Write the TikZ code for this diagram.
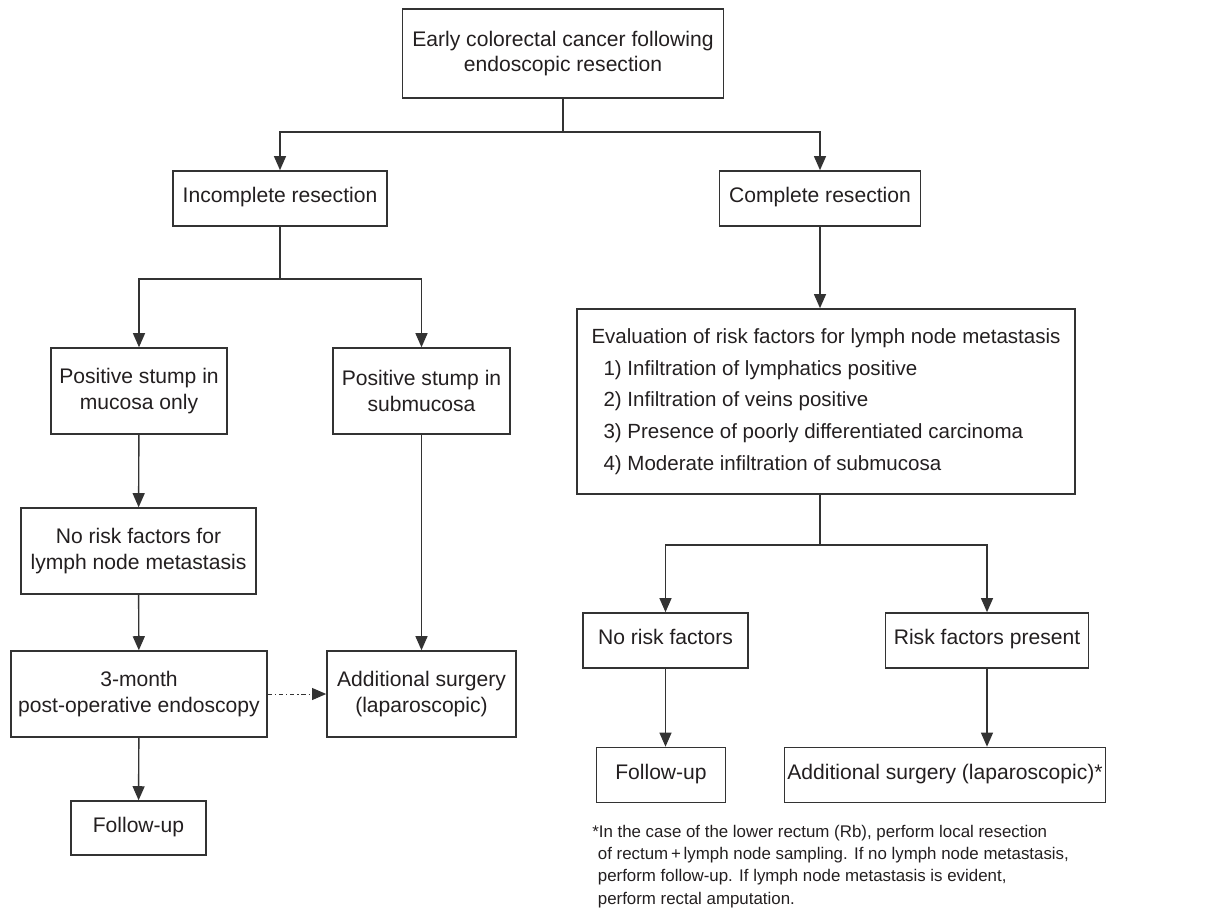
\documentclass[tikz,border=0pt]{standalone}
\usepackage{fontspec}
\setmainfont{Liberation Sans}
\usepackage{tikz}
\usetikzlibrary{arrows.meta, positioning, calc}

\definecolor{inkgray}{HTML}{231F20}
\definecolor{linegray}{HTML}{333333}

\begin{document}
\begin{tikzpicture}[x=0.025cm, y=-0.025cm,
    box/.style={draw=linegray, line width=1pt, text=inkgray, align=center, inner sep=2pt,
                font=\fontsize{15}{18}\selectfont},
    single/.style={text height=1.55ex, text depth=0.45ex},
    arr/.style={draw=linegray, line width=1pt, -{Triangle[length=10pt, width=8.5pt]}},
    link/.style={draw=linegray, line width=1pt},
    dotarr/.style={draw=linegray, line width=0.7pt, dash pattern=on 3pt off 2pt on 1pt off 2pt,
                   -{Triangle[length=10pt, width=8.5pt]}},
    note/.style={text=inkgray, align=left, inner sep=0pt, font=\fontsize{12}{15.8}\selectfont}]

\useasboundingbox (0,0) rectangle (1206,915);

% Top
\node[box, minimum width=8.03cm, minimum height=2.23cm] (start) at (563,53.5)
    {Early colorectal cancer following\\endoscopic resection};

% Row 1: resection outcome
\node[box, single, minimum width=5.35cm, minimum height=1.38cm] (incomp) at (280,198.5) {Incomplete resection};
\node[box, single, minimum width=5.03cm, minimum height=1.38cm] (comp) at (820,198.5) {Complete resection};

% Left branch
\node[box, minimum width=4.40cm, minimum height=2.15cm] (mucosa) at (139,391) {Positive stump in\\mucosa only};
\node[box, minimum width=4.43cm, minimum height=2.15cm] (submuc) at (421.5,391) {Positive stump in\\submucosa};
\node[box, minimum width=5.88cm, minimum height=2.15cm] (norisk-l) at (138.5,551) {No risk factors for\\lymph node metastasis};
\node[box, minimum width=6.40cm, minimum height=2.15cm] (endo) at (139,694) {3-month\\post-operative endoscopy};
\node[box, minimum width=4.73cm, minimum height=2.15cm] (surg-l) at (421.5,694) {Additional surgery\\(laparoscopic)};
\node[box, single, minimum width=3.38cm, minimum height=1.35cm] (follow-l) at (138.5,828) {Follow-up};

% Right branch
\node[box, align=left, minimum width=12.45cm, minimum height=4.63cm,
      font=\fontsize{14.6}{22.6}\selectfont] (eval) at (826,401.5)
    {Evaluation of risk factors for lymph node metastasis\\
     \hspace*{0.3cm}1) Infiltration of lymphatics positive\\
     \hspace*{0.3cm}2) Infiltration of veins positive\\
     \hspace*{0.3cm}3) Presence of poorly differentiated carcinoma\\
     \hspace*{0.3cm}4) Moderate infiltration of submucosa};
\node[box, single, minimum width=4.13cm, minimum height=1.38cm] (norisk-r) at (665.5,640.5) {No risk factors};
\node[box, single, minimum width=5.08cm, minimum height=1.38cm] (risk) at (987,640.5) {Risk factors present};
\node[box, single, minimum width=3.23cm, minimum height=1.38cm] (follow-r) at (661,775) {Follow-up};
\node[box, single, minimum width=7.85cm, minimum height=1.38cm] (surg-r) at (945,775) {Additional surgery (laparoscopic)*};

% Footnote
\node[note, anchor=north west] (fnote) at (592,825)
    {*In the case of the lower rectum (Rb), perform local resection\\
     \hspace*{4pt}of rectum\,+\,lymph node sampling. If no lymph node metastasis,\\
     \hspace*{4pt}perform follow-up. If lymph node metastasis is evident,\\
     \hspace*{4pt}perform rectal amputation.};

% Branch points
\coordinate (j-top) at (563,132);
\coordinate (j-left) at (280,279);
\coordinate (j-right) at (820,545);

% Connections
\draw[link] (start) -- (j-top);
\draw[arr] (j-top) -| (incomp);
\draw[arr] (j-top) -| (comp);

\draw[link] (incomp) -- (j-left);
\draw[arr] (j-left) -| (mucosa);
\draw[arr] (j-left) -| (submuc);
\draw[arr] (mucosa) -- (norisk-l);
\draw[arr] (norisk-l) -- (endo);
\draw[arr] (endo) -- (follow-l);
\draw[arr] (submuc) -- (surg-l);
\draw[dotarr] (endo) -- (surg-l);

\draw[arr] (comp) -- (comp |- eval.north);
\draw[link] (eval.south -| j-right) -- (j-right);
\draw[arr] (j-right) -| (norisk-r);
\draw[arr] (j-right) -| (risk);
\draw[arr] (norisk-r) -- (norisk-r |- follow-r.north);
\draw[arr] (risk) -- (risk |- surg-r.north);

\end{tikzpicture}
\end{document}
